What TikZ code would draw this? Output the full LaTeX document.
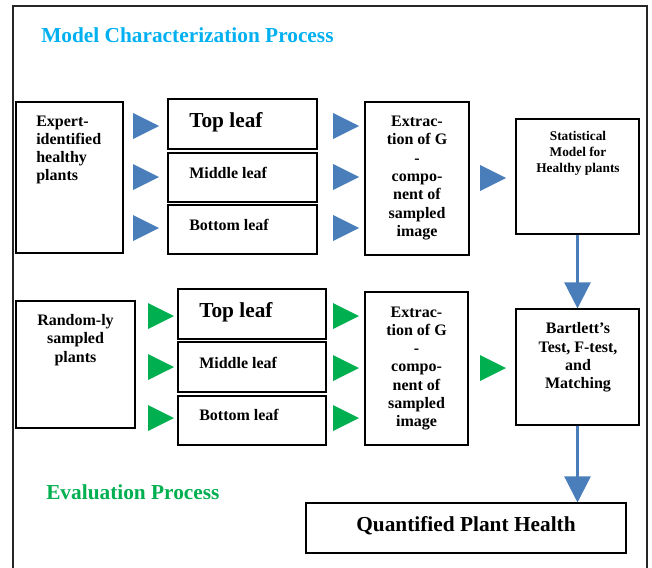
\documentclass[tikz,border=0pt]{standalone}
\usepackage{fontspec}
\setmainfont{Liberation Serif}
\usetikzlibrary{fit,arrows.meta}

\definecolor{flowblue}{RGB}{74,126,187}
\definecolor{flowgreen}{RGB}{0,176,80}
\definecolor{titlecyan}{RGB}{0,176,240}

\tikzset{
  box/.style={draw=black, line width=0.8pt, inner sep=0pt},
  txt/.style={inner sep=0pt, font=\bfseries\fontsize{12}{13.7}\selectfont},
  bigtxt/.style={inner sep=0pt, font=\bfseries\fontsize{16}{18}\selectfont},
  smalltxt/.style={inner sep=0pt, font=\bfseries\fontsize{10}{12}\selectfont},
  heading/.style={inner sep=0pt, anchor=base west, font=\bfseries\fontsize{16}{18}\selectfont},
  frame/.style={draw=black!85, line width=1.6pt},
  flow/.style={draw=flowblue, line width=1.8pt,
    -{Triangle[width=19.5pt,length=19.5pt]}},
  btri/.pic={\fill[flowblue] (-13,-13) -- (13,0) -- (-13,13) -- cycle;},
  gtri/.pic={\fill[flowgreen] (-13,-13) -- (13,0) -- (-13,13) -- cycle;},
}

\begin{document}
\begin{tikzpicture}[x=0.75pt, y=-0.75pt]
\useasboundingbox (0,0) rectangle (652,567);

% outer frame (open at the bottom)
\draw[frame] (13,580) -- (13,6) -- (647,6) -- (647,580);

% headings
\node[heading, text=titlecyan] (h1) at (41,43) {Model Characterization Process};
\node[heading, text=flowgreen] (h2) at (46,499) {Evaluation Process};

% ---- model characterization row ----
\node[box, fit={(16,102) (123,253)}] (exp) {};
\node[txt, anchor=west, align=left] (expT) at (36,150) {Expert-\\identified\\healthy\\plants};

\node[box, fit={(168,99) (317,149)}] (top1) {};
\node[box, fit={(168,153) (317,202)}] (mid1) {};
\node[box, fit={(168,205) (317,254)}] (bot1) {};
\node[bigtxt, anchor=west] (top1T) at (189,122) {Top leaf};
\node[txt, anchor=west] (mid1T) at (189,173) {Middle leaf};
\node[txt, anchor=west] (bot1T) at (189,225) {Bottom leaf};

\node[box, fit={(365,102) (469,255)}] (ext1) {};
\node[txt, align=center] (ext1T) at (417,178) {Extrac-\\tion of G\\-\\compo-\\nent of\\sampled\\image};

\node[box, fit={(516,119) (639,234)}] (stat) {};
\node[smalltxt, align=center] (statT) at (578,153) {Statistical\\Model for\\Healthy plants};

\pic at (146,126) {btri};
\pic at (146,177) {btri};
\pic at (146,228) {btri};
\pic at (346,126) {btri};
\pic at (346,177) {btri};
\pic at (346,228) {btri};
\pic at (493,178) {btri};

% ---- evaluation row ----
\node[box, fit={(16,301) (135,428)}] (rnd) {};
\node[txt, align=center] (rndT) at (75.5,340) {Random-ly\\sampled\\plants};

\node[box, fit={(178,289) (326,339)}] (top2) {};
\node[box, fit={(178,342) (326,392)}] (mid2) {};
\node[box, fit={(178,396) (326,445)}] (bot2) {};
\node[bigtxt, anchor=west] (top2T) at (199,312) {Top leaf};
\node[txt, anchor=west] (mid2T) at (199,363) {Middle leaf};
\node[txt, anchor=west] (bot2T) at (199,415) {Bottom leaf};

\node[box, fit={(365,292) (468,445)}] (ext2) {};
\node[txt, align=center] (ext2T) at (416.5,368.5) {Extrac-\\tion of G\\-\\compo-\\nent of\\sampled\\image};

\node[box, fit={(516,309) (639,425)}] (bart) {};
\node[txt, align=center] (bartT) at (578,357.5) {Bartlett’s\\Test, F-test,\\and\\Matching};

\pic at (161,316) {gtri};
\pic at (161,367) {gtri};
\pic at (161,418) {gtri};
\pic at (346,316) {gtri};
\pic at (346,368) {gtri};
\pic at (346,418) {gtri};
\pic at (493,368) {gtri};

% ---- result ----
\node[box, fit={(306,503) (626,553)}] (res) {};
\node[bigtxt] (resT) at (466,526) {Quantified Plant Health};

% vertical flow arrows
\draw[flow] (stat.south) -- (bart.north);
\draw[flow] (bart.south) -- (bart.south |- res.north);
\end{tikzpicture}
\end{document}
